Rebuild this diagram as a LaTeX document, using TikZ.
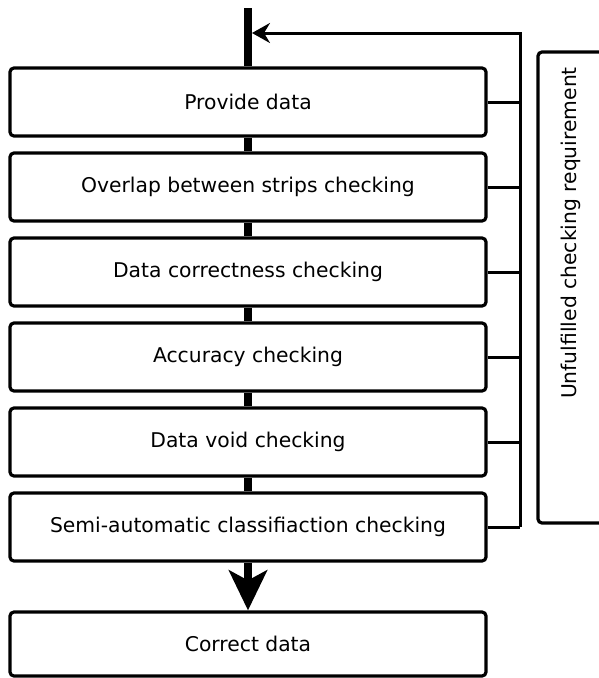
\documentclass[tikz,border=0pt]{standalone}
\usepackage{fontspec}
\setmainfont{DejaVu Sans}
\usetikzlibrary{arrows.meta}
\begin{document}
\begin{tikzpicture}[x=1pt,y=-1pt,
  stepbox/.style={draw, line width=3.2pt, rounded corners=4pt, minimum width=476pt, minimum height=68pt, inner sep=0pt, font=\fontsize{20.3}{24}\selectfont},
  flow/.style={line width=7.5pt},
  back/.style={line width=3pt}]
\useasboundingbox (0,0) rectangle (598,678);
\coordinate (start) at (248,8);
\node[stepbox] (b1) at (248,102) {Provide data};
\node[stepbox] (b2) at (248,187) {Overlap between strips checking};
\node[stepbox] (b3) at (248,272) {Data correctness checking};
\node[stepbox] (b4) at (248,357) {Accuracy checking};
\node[stepbox] (b5) at (248,442) {Data void checking};
\node[stepbox] (b6) at (248,527) {Semi-automatic classifiaction checking};
\node[stepbox, minimum height=64pt] (b7) at (248,644) {Correct data};
\node[draw, line width=3.2pt, rounded corners=4pt, minimum width=110pt, minimum height=471pt, inner sep=0pt] (req) at (593,287.5) {};
\node[rotate=90, font=\fontsize{20.3}{24}\selectfont, inner sep=0pt] (reqtext) at (571,233) {Unfulfilled checking requirement};
\coordinate (fbtop) at (520,33);
\coordinate (fbbot) at (520,527);
\draw[flow] (start) -- (b1.north);
\draw[flow] (b1.south) -- (b2.north);
\draw[flow] (b2.south) -- (b3.north);
\draw[flow] (b3.south) -- (b4.north);
\draw[flow] (b4.south) -- (b5.north);
\draw[flow] (b5.south) -- (b6.north);
\draw[flow, -{Stealth[length=40pt, width=38pt, inset=10pt]}] (b6.south) -- (b7.north);
\draw[back] (b1.east) -- (b1.east -| fbtop);
\draw[back] (b2.east) -- (b2.east -| fbtop);
\draw[back] (b3.east) -- (b3.east -| fbtop);
\draw[back] (b4.east) -- (b4.east -| fbtop);
\draw[back] (b5.east) -- (b5.east -| fbtop);
\draw[back, -{Stealth[length=18pt, width=20pt, inset=6pt]}] (fbbot) -- (b6.east -| fbtop) -- (fbtop) -- (252,33);
\draw[back] (b6.east) -- (fbbot);
\end{tikzpicture}
\end{document}
